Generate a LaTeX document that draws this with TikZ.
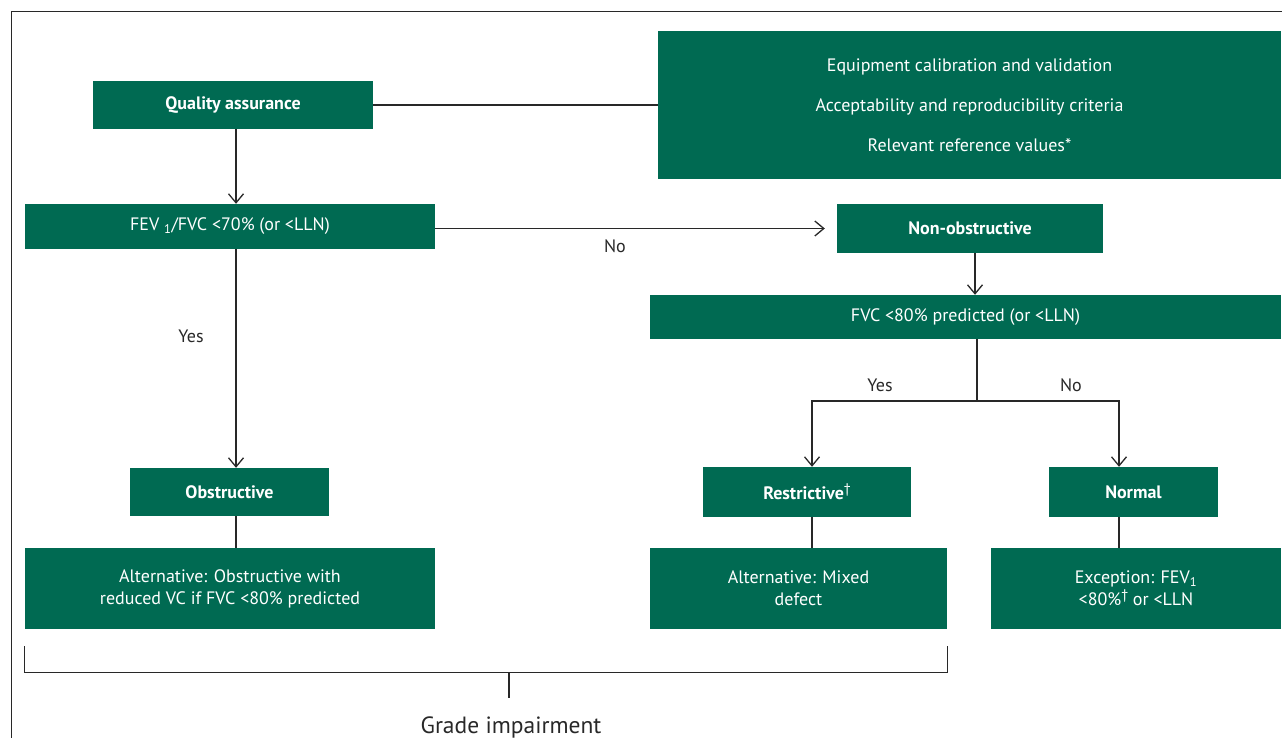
\documentclass[tikz,border=0pt]{standalone}
\usepackage{fontspec}
\setmainfont{PT Sans}
\usetikzlibrary{positioning,calc}
\usetikzlibrary{arrows.meta}

\definecolor{spirogreen}{RGB}{0,106,82}
\definecolor{spiroline}{RGB}{40,40,40}

\newcommand{\spirodag}{\raisebox{6pt}{\fontsize{14}{14}\selectfont\mdseries\textdagger}}

\tikzset{
  box/.style={fill=spirogreen, text=white, inner sep=0pt, align=center,
    font=\fontsize{18}{22}\selectfont},
  answer/.style={text=spiroline, inner sep=0pt, font=\fontsize{18}{20}\selectfont},
  link/.style={draw=spiroline, line width=1.3pt},
  >={Straight Barb[length=9pt,width=15pt]}
}

\begin{document}
\begin{tikzpicture}[x=1pt, y=-1pt]
  \useasboundingbox (0,0) rectangle (1282,738);
  % \draw[step=50pt, gray!20!white, very thin] (0,0) grid (1282,738);

  % frame
  \draw[spiroline, line width=1pt] (11,738) -- (11,12) -- (1282,12);

  \node[box, minimum height=48pt, minimum width=280pt] at (233, 105) (qa)     {\bfseries Quality assurance};
  \node[box, minimum height=148pt, minimum width=623pt, font=\fontsize{18}{40}\selectfont] at (969.5, 105) (checks)
    {Equipment calibration and validation\\Acceptability and reproducibility criteria\\Relevant reference values*};

  \node[box, minimum height=45pt, minimum width=410pt] at (230, 226.5) (ratio)  {FEV~\textsubscript{1}/FVC <70\% (or <LLN)};
  \node[box, minimum height=49pt, minimum width=266pt] at (970, 228.5) (nonobs) {\bfseries Non-obstructive};
  \node[box, minimum height=44pt, minimum width=631pt] at (965.5, 317) (fvc)    {FVC <80\% predicted (or <LLN)};

  \node[box, minimum height=48pt, minimum width=199pt] at (229.5, 492) (obs)    {\bfseries Obstructive};
  \node[box, minimum height=50pt, minimum width=208pt] at (807, 492) (restr)    {\bfseries Restrictive\spirodag};
  \node[box, minimum height=50pt, minimum width=169pt] at (1133.5, 492) (normal) {\bfseries Normal};

  \node[box, minimum height=81pt, minimum width=410pt] at (230, 588.5) (altobs)   {Alternative: Obstructive with\\reduced VC if FVC <80\% predicted};
  \node[box, minimum height=81pt, minimum width=297pt] at (798.5, 588.5) (mixed)  {Alternative: Mixed\\defect};
  \node[box, minimum height=81pt, minimum width=290pt] at (1136, 588.5) (except)  {Exception: FEV\textsubscript{1}\\<80\%\spirodag{} or <LLN};

  \node[answer] at (615, 246) (no1)  {No};
  \node[answer] at (191, 336) (yes1) {Yes};
  \node[answer] at (880, 385) (yes2) {Yes};
  \node[answer] at (1071, 385) (no2) {No};

  \node[text=spiroline, font=\fontsize{23.5}{26}\selectfont, anchor=base] at (511, 733) (grade) {Grade impairment};

  \coordinate (split) at (977, 401);
  \coordinate (bracemid) at (509, 672);
  \coordinate (stemend) at (509, 698);

  \draw[link] (qa.east) -- (qa.east -| checks.west);
  \draw[link, ->] ([xshift=3pt]qa.south) -- ([xshift=3pt]qa.south |- ratio.north);
  \draw[link, ->, shorten >=12pt] (ratio.east |- nonobs.center) -- (nonobs.west);
  \draw[link, ->] ([xshift=5pt]nonobs.south) -- ([xshift=5pt]nonobs.south |- fvc.north);
  \draw[link, ->] ([xshift=3pt]qa.south |- ratio.south) -- ([xshift=3pt]qa.south |- obs.north);
  \draw[link] ([xshift=3pt]qa.south |- obs.south) -- ([xshift=3pt]qa.south |- altobs.north);

  \draw[link] (split |- fvc.south) -- (split);
  \draw[link, ->] (split) -| ([xshift=5pt]restr.north);
  \draw[link, ->] (split) -| ([xshift=-14.5pt]normal.north);
  \draw[link] ([xshift=5pt]restr.south) -- ([xshift=5pt]restr.south |- mixed.north);
  \draw[link] ([xshift=-14.5pt]normal.south) -- ([xshift=-14.5pt]normal.south |- except.north);

  % bracket
  \draw[link] ([yshift=-17pt]altobs.south west) -- ([yshift=-43pt]altobs.south west)
    -| ([yshift=-17pt]mixed.south east);
  \draw[link] (bracemid) -- (stemend);

\end{tikzpicture}
\end{document}
